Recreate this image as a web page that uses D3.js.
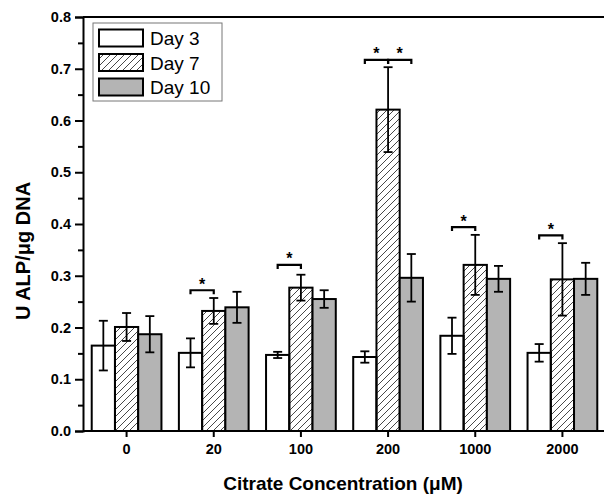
<!DOCTYPE html>
<html>
<head>
<meta charset="utf-8">
<script src="https://cdn.jsdelivr.net/npm/d3@7"></script>
<style>
  body { margin: 0; background: #fff; }
  text { font-family: Arial, "Liberation Sans", sans-serif; }
</style>
</head>
<body>
<div id="chart"></div>
<script>
// data
const concentrations = ["0", "20", "100", "200", "1000", "2000"];
const days = ["Day 3", "Day 7", "Day 10"];
const day3 = [0.165, 0.151, 0.147, 0.143, 0.184, 0.151];
const day7 = [0.201, 0.232, 0.277, 0.621, 0.321, 0.293];
const day10 = [0.187, 0.239, 0.255, 0.296, 0.294, 0.294];
const day3Err = [0.048, 0.028, 0.006, 0.011, 0.035, 0.017];
const day7Err = [0.027, 0.025, 0.025, 0.082, 0.058, 0.070];
const day10Err = [0.035, 0.030, 0.017, 0.046, 0.025, 0.031];
const yTicks = [0.0, 0.1, 0.2, 0.3, 0.4, 0.5, 0.6, 0.7, 0.8];

// significance brackets: group, from day, to day, height
const sigGroup = ["20", "100", "200", "200", "1000", "2000"];
const sigFrom = ["Day 3", "Day 3", "Day 3", "Day 7", "Day 3", "Day 3"];
const sigTo = ["Day 7", "Day 7", "Day 7", "Day 10", "Day 7", "Day 7"];
const sigY = [0.272, 0.321, 0.717, 0.717, 0.394, 0.378];

const width = 604, height = 494;
const plotLeft = 83, plotRight = 606, plotTop = 17, plotBottom = 431;

const svg = d3.select("#chart").append("svg")
    .attr("width", width)
    .attr("height", height);

let defs = svg.append("defs");
defs.append("pattern")
    .attr("id", "hatch")
    .attr("patternUnits", "userSpaceOnUse")
    .attr("width", 7)
    .attr("height", 7)
    .append("path")
    .attr("d", "M-1,8 L8,-1 M-1,1 L1,-1 M6,8 L8,6")
    .attr("stroke", "#333")
    .attr("stroke-width", 0.9);

const x0 = d3.scaleBand()
    .domain(concentrations)
    .range([plotLeft, plotRight])
    .paddingInner(0.2)
    .paddingOuter(0.1);

const x1 = d3.scaleBand()
    .domain(days)
    .range([0, x0.bandwidth()]);

const y = d3.scaleLinear()
    .domain([0, 0.8])
    .range([plotBottom, plotTop]);

const fills = {"Day 3": "#ffffff", "Day 7": "url(#hatch)", "Day 10": "#b4b4b4"};
const series = {"Day 3": [day3, day3Err], "Day 7": [day7, day7Err], "Day 10": [day10, day10Err]};

let rows = [];
concentrations.forEach((c, i) => {
    days.forEach(d => {
        rows.push({conc: c, day: d, value: series[d][0][i], err: series[d][1][i]});
    });
});

// bars
svg.append("g").selectAll("rect")
    .data(rows)
    .enter()
    .append("rect")
    .attr("x", d => x0(d.conc) + x1(d.day))
    .attr("y", d => y(d.value))
    .attr("width", x1.bandwidth())
    .attr("height", d => y(0) - y(d.value))
    .attr("fill", d => fills[d.day])
    .attr("stroke", "#000")
    .attr("stroke-width", 2);

// error bars
let eb = svg.append("g").attr("stroke", "#000").attr("stroke-width", 1.8);
rows.forEach(d => {
    const cx = x0(d.conc) + x1(d.day) + x1.bandwidth() / 2;
    eb.append("line")
        .attr("x1", cx).attr("x2", cx)
        .attr("y1", y(d.value + d.err)).attr("y2", y(d.value - d.err));
    [d.value + d.err, d.value - d.err].forEach(v => {
        eb.append("line")
            .attr("x1", cx - 4.5).attr("x2", cx + 4.5)
            .attr("y1", y(v)).attr("y2", y(v));
    });
});

// significance brackets
let sig = svg.append("g");
sigGroup.forEach((g, i) => {
    const xa = x0(g) + x1(sigFrom[i]) + x1.bandwidth() / 2;
    const xb = x0(g) + x1(sigTo[i]) + x1.bandwidth() / 2;
    const yy = y(sigY[i]);
    sig.append("path")
        .attr("d", `M${xa},${yy + 4}V${yy}H${xb}V${yy + 4}`)
        .attr("fill", "none")
        .attr("stroke", "#000")
        .attr("stroke-width", 2.2);
    sig.append("text")
        .attr("x", (xa + xb) / 2)
        .attr("y", yy - 0.5)
        .attr("text-anchor", "middle")
        .style("font-size", "16px")
        .style("font-weight", "bold")
        .text("*");
});

// axes
let yAxis = svg.append("g")
    .attr("transform", `translate(${plotLeft},0)`)
    .call(d3.axisLeft(y).tickValues(yTicks).tickSize(8).tickFormat(d3.format(".1f")));
svg.append("g")
    .attr("transform", `translate(${plotLeft},0)`)
    .call(d3.axisLeft(y).tickValues(d3.range(0.05, 0.8, 0.1)).tickSize(5).tickFormat(""))
    .call(g => g.select(".domain").remove());
let xAxis = svg.append("g")
    .attr("transform", `translate(0,${plotBottom})`)
    .call(d3.axisBottom(x0).tickSize(6).tickSizeOuter(0));

[yAxis, xAxis].forEach(a => {
    a.selectAll(".domain").attr("stroke-width", 2);
    a.selectAll(".tick text")
        .style("font-size", "14.5px")
        .style("font-weight", "bold")
        .attr("fill", "#000");
});
svg.selectAll(".tick line").attr("stroke-width", 2);
yAxis.selectAll(".tick text").attr("x", -12);
xAxis.selectAll(".tick text").attr("y", 13);
xAxis.select(".domain").attr("d", `M${plotLeft},0H${plotRight}`);

// top frame
svg.append("line")
    .attr("x1", plotLeft).attr("x2", plotRight)
    .attr("y1", plotTop).attr("y2", plotTop)
    .attr("stroke", "#000")
    .attr("stroke-width", 2);

// axis titles
svg.append("text")
    .attr("x", 343)
    .attr("y", 490)
    .attr("text-anchor", "middle")
    .style("font-size", "19px")
    .style("font-weight", "bold")
    .text("Citrate Concentration (μM)");

svg.append("text")
    .attr("transform", `translate(30, ${251}) rotate(-90)`)
    .attr("text-anchor", "middle")
    .style("font-size", "20px")
    .style("font-weight", "bold")
    .text("U ALP/μg DNA");

// legend
let legend = svg.append("g").attr("transform", "translate(93,23)");
legend.append("rect")
    .attr("width", 129)
    .attr("height", 78)
    .attr("fill", "#fff")
    .attr("stroke", "#777")
    .attr("stroke-width", 1);
days.forEach((d, i) => {
    legend.append("rect")
        .attr("x", 6)
        .attr("y", 6.5 + i * 24.5)
        .attr("width", 44)
        .attr("height", 17)
        .attr("fill", fills[d])
        .attr("stroke", "#000")
        .attr("stroke-width", 2);
    legend.append("text")
        .attr("x", 57)
        .attr("y", 22 + i * 24.5)
        .style("font-size", "19px")
        .text(d);
});
</script>
</body>
</html>
